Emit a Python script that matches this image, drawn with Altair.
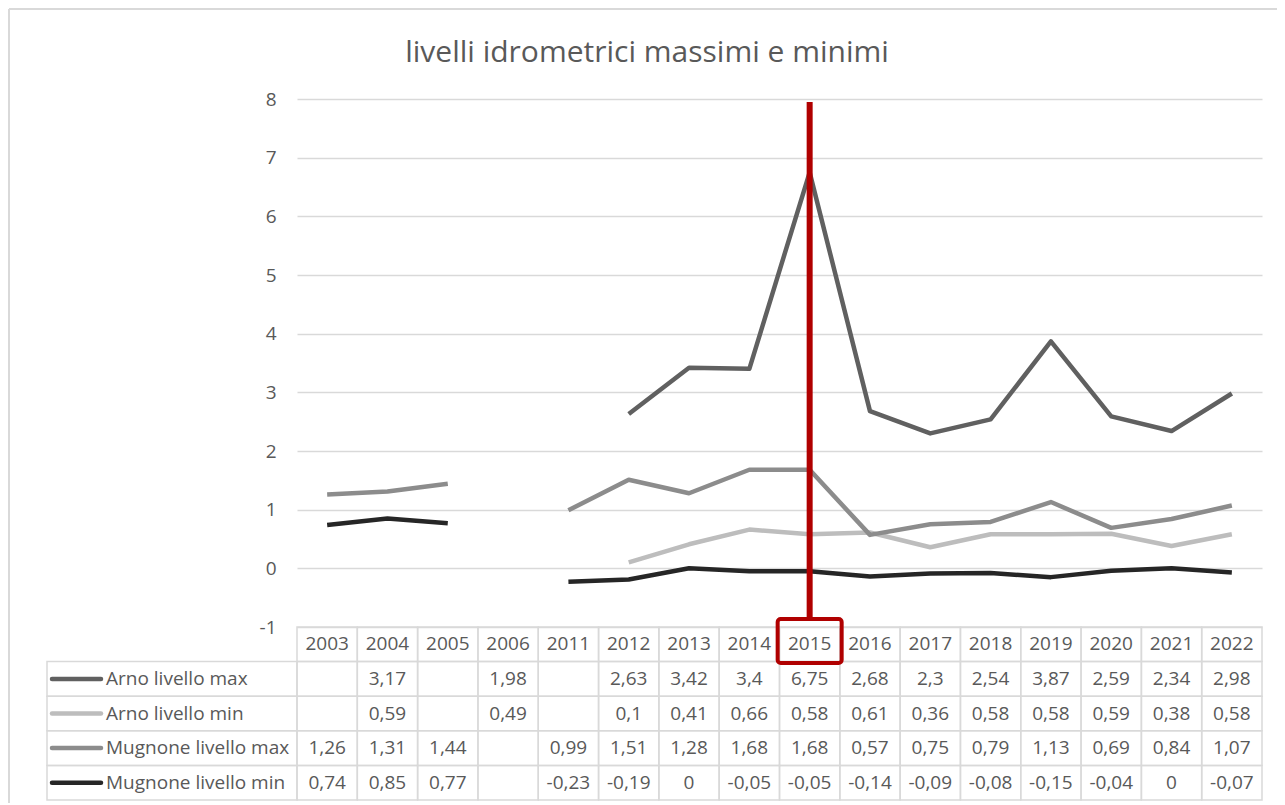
import altair as alt
import pandas as pd

years = ["2003", "2004", "2005", "2006", "2011", "2012", "2013", "2014", "2015",
         "2016", "2017", "2018", "2019", "2020", "2021", "2022"]
arno_max = [None, 3.17, None, 1.98, None, 2.63, 3.42, 3.4, 6.75, 2.68, 2.3, 2.54, 3.87, 2.59, 2.34, 2.98]
arno_min = [None, 0.59, None, 0.49, None, 0.1, 0.41, 0.66, 0.58, 0.61, 0.36, 0.58, 0.58, 0.59, 0.38, 0.58]
mug_max = [1.26, 1.31, 1.44, None, 0.99, 1.51, 1.28, 1.68, 1.68, 0.57, 0.75, 0.79, 1.13, 0.69, 0.84, 1.07]
mug_min = [0.74, 0.85, 0.77, None, -0.23, -0.19, 0, -0.05, -0.05, -0.14, -0.09, -0.08, -0.15, -0.04, 0, -0.07]

series_names = ["Arno livello max", "Arno livello min", "Mugnone livello max", "Mugnone livello min"]
series_values = [arno_max, arno_min, mug_max, mug_min]
series_colors = ["#606060", "#bdbdbd", "#8c8c8c", "#262626"]
highlight_year = "2015"
title_text = "livelli idrometrici massimi e minimi"
y_ticks = [-1, 0, 1, 2, 3, 4, 5, 6, 7, 8]

FONT = "Open Sans"
TXT = "#595959"
GRID = "#d9d9d9"
RED = "#b00000"
FS = 19

W, H = 965, 528
HEADER = "anno"
row_domain = [HEADER] + series_names
row_scale = alt.Scale(type="band", domain=row_domain, range=[H, H + 173], paddingInner=0, paddingOuter=0)
x_scale = alt.Scale(type="band", domain=years, paddingInner=0, paddingOuter=0)
color_scale = alt.Scale(domain=series_names, range=series_colors)


def fmt(v):
    if v is None:
        return ""
    return f"{v:g}".replace(".", ",")


rows = []
for name, vals in zip(series_names, series_values):
    for y, v in zip(years, vals):
        rows.append({"year": y, "series": name, "value": v, "label": fmt(v)})
long_df = pd.DataFrame(rows)

cells = [{"year": y, "row": HEADER, "label": y} for y in years]
cells += [{"year": r["year"], "row": r["series"], "label": r["label"]} for r in rows]
cells_df = pd.DataFrame(cells)
legend_df = pd.DataFrame({"row": series_names, "series": series_names})

base_x = alt.X("year:O", scale=x_scale, axis=None, bandPosition=0.5)

lines = alt.Chart(long_df).mark_line(strokeWidth=4.5, strokeJoin="round", strokeCap="butt").encode(
    x=base_x,
    y=alt.Y("value:Q", scale=alt.Scale(domain=[-1, 8], nice=False, zero=False),
            axis=alt.Axis(values=y_ticks, grid=True, gridColor=GRID, gridWidth=1.5, domain=False,
                          ticks=False, labelFontSize=FS, labelFont=FONT, labelColor=TXT,
                          labelPadding=21, title=None, labelExpr="'' + datum.value")),
    color=alt.Color("series:N", scale=color_scale, legend=None),
    detail="series:N",
)

cell_rects = alt.Chart(cells_df).mark_rect(fill="transparent", stroke=GRID, strokeWidth=1.5).encode(
    x=alt.X("year:O", scale=x_scale, axis=None),
    y=alt.Y("row:N", scale=row_scale, axis=None),
)

cell_text = alt.Chart(cells_df).mark_text(font=FONT, fontSize=FS, color=TXT, align="center",
                                          baseline="middle").encode(
    x=base_x,
    y=alt.Y("row:N", scale=row_scale, axis=None, bandPosition=0.5),
    text="label:N",
)

legend_rects = alt.Chart(legend_df).mark_rect(fill="transparent", stroke=GRID, strokeWidth=1.5).encode(
    x=alt.value(-250), x2=alt.value(0),
    y=alt.Y("row:N", scale=row_scale, axis=None),
)

legend_keys = alt.Chart(legend_df).mark_rule(strokeWidth=4.5, strokeCap="round").encode(
    x=alt.value(-245), x2=alt.value(-196),
    y=alt.Y("row:N", scale=row_scale, axis=None, bandPosition=0.5),
    color=alt.Color("series:N", scale=color_scale, legend=None),
)

legend_text = alt.Chart(legend_df).mark_text(font=FONT, fontSize=FS, color=TXT, align="left",
                                             baseline="middle").encode(
    x=alt.value(-191),
    y=alt.Y("row:N", scale=row_scale, axis=None, bandPosition=0.5),
    text="series:N",
)

hl_df = pd.DataFrame({"year": [highlight_year]})
red_rule = alt.Chart(hl_df).mark_rule(color=RED, strokeWidth=6).encode(
    x=base_x, y=alt.value(3), y2=alt.value(518),
)
red_box = alt.Chart(hl_df).mark_rect(fill="transparent", stroke=RED, strokeWidth=4, cornerRadius=3,
                                     width=64).encode(
    x=alt.X("year:O", scale=x_scale, axis=None, bandPosition=0.5),
    y=alt.value(520), y2=alt.value(564),
)

title = alt.Chart(pd.DataFrame({"t": [title_text]})).mark_text(
    font=FONT, fontSize=30, color=TXT, align="center", baseline="alphabetic").encode(
    x=alt.value(350), y=alt.value(-37), text="t:N")

frame_df = pd.DataFrame({"k": [0]})
frame_left = alt.Chart(frame_df).mark_rule(color=GRID, strokeWidth=2).encode(
    x=alt.value(-288), y=alt.value(-90), y2=alt.value(H + 200))
frame_top = alt.Chart(frame_df).mark_rule(color=GRID, strokeWidth=2).encode(
    x=alt.value(-288), x2=alt.value(W + 30), y=alt.value(-90))

chart = alt.layer(
    frame_left, frame_top, title, cell_rects, legend_rects, lines, legend_keys,
    cell_text, legend_text, red_rule, red_box,
).resolve_scale(y="independent").properties(
    width=W, height=H,
    autosize=alt.AutoSizeParams(type="none"),
    padding={"left": 289, "top": 91, "right": 15, "bottom": 176},
).configure_view(stroke=None)

chart.save("out.html", embed_options={"renderer": "svg", "actions": False})
